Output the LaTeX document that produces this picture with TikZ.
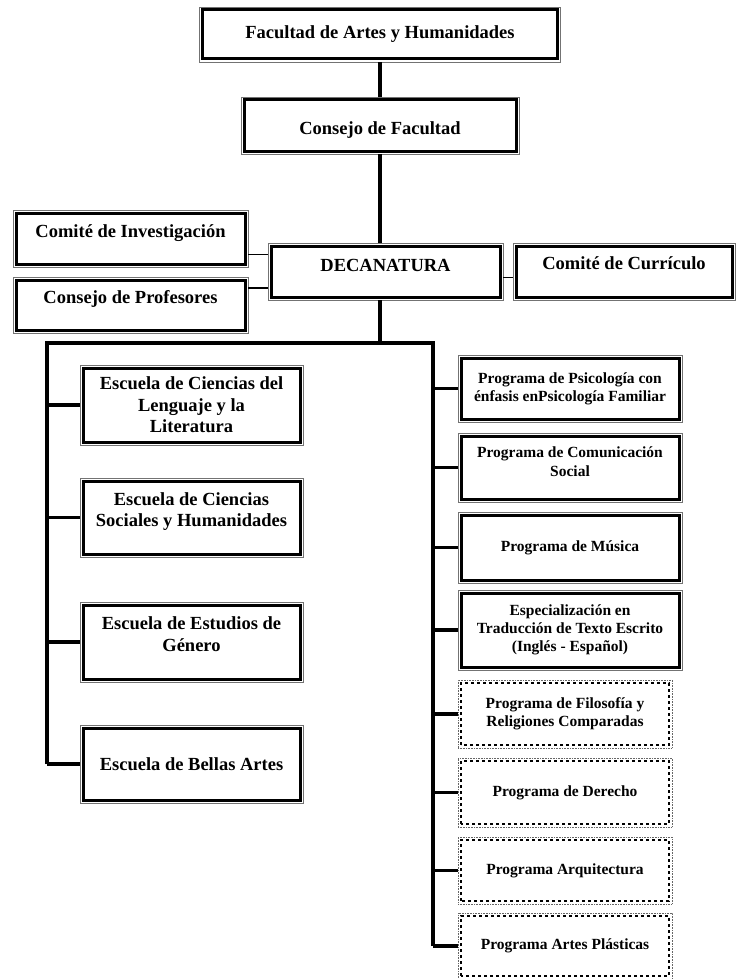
\documentclass[tikz,border=0pt]{standalone}
\usepackage{fontspec}
\setmainfont{Liberation Serif}
\usetikzlibrary{positioning}

\begin{document}
\begin{tikzpicture}[x=1pt,y=-1pt,
  caja/.style={draw=black!55, line width=0.7pt, fill=white, align=center,
    inner sep=1pt, font=\bfseries\fontsize{18.5}{21.5}\selectfont,
    path picture={\draw[black,solid,line width=3pt]
      ([shift={(3pt,3pt)}]path picture bounding box.south west) rectangle
      ([shift={(-3pt,-3pt)}]path picture bounding box.north east);}},
  programa/.style={caja, font=\bfseries\fontsize{15.5}{18.3}\selectfont},
  propuesta/.style={programa, draw=black!60, line width=0.6pt, densely dotted,
    path picture={\draw[black,line width=2.8pt,dash pattern=on 2.8pt off 3.2pt]
      ([shift={(3pt,3pt)}]path picture bounding box.south west) rectangle
      ([shift={(-3pt,-3pt)}]path picture bounding box.north east);}},
  arriba/.style={text depth=#1},
  tronco/.style={line width=3.5pt, line join=miter},
  rama/.style={line width=3.2pt},
  media/.style={line width=1.8pt},
  fina/.style={line width=0.9pt}]
  \pgfmathsetmacro{\AnchoEsc}{223}
  \pgfmathsetmacro{\AnchoProg}{224}
  \pgfmathsetmacro{\AnchoProp}{214}
  \useasboundingbox (0,0) rectangle (737,979);

  \node[caja, minimum width=361pt, minimum height=55pt] (fac) at (380,34.5) {Facultad de Artes y Humanidades};
  \node[caja, minimum width=278pt, minimum height=57pt, text height=22pt] (consejo) at (380,125.5) {Consejo de Facultad};
  \node[caja, minimum width=235pt, minimum height=57pt, arriba=14pt] (inv) at (130.5,238.5) {Comité de Investigación};
  \node[caja, minimum width=235pt, minimum height=56pt, arriba=17pt] (prof) at (130.5,305) {Consejo de Profesores};
  \node[caja, minimum width=235pt, minimum height=57pt, arriba=12pt] (dec) at (385.5,271.5) {DECANATURA};
  \node[caja, minimum width=222pt, minimum height=57pt, arriba=16pt] (cur) at (624,271.5) {Comité de Currículo};

  \coordinate (barraIzq) at (47,343);
  \coordinate (barraDer) at (433,343);

  \node[caja, minimum width=\AnchoEsc, minimum height=80pt] (esc1) at (191.5,405) {Escuela de Ciencias del\\Lenguaje y la\\Literatura};
  \node[caja, minimum width=\AnchoEsc, minimum height=79pt, arriba=16pt] (esc2) at (191.5,517.5) {Escuela de Ciencias\\Sociales y Humanidades};
  \node[caja, minimum width=\AnchoEsc, minimum height=80pt, arriba=16pt] (esc3) at (191.5,642) {Escuela de Estudios de\\Género};
  \node[caja, minimum width=\AnchoEsc, minimum height=78pt] (esc4) at (191.5,764) {Escuela de Bellas Artes};

  \node[programa, minimum width=\AnchoProg, minimum height=67pt] (prog1) at (570,388.5) {Programa de Psicología con\\énfasis enPsicología Familiar};
  \node[programa, minimum width=\AnchoProg, minimum height=69pt, arriba=12pt] (prog2) at (570,467.5) {Programa de Comunicación\\Social};
  \node[programa, minimum width=\AnchoProg, minimum height=71pt] (prog3) at (570,547.5) {Programa de Música};
  \node[programa, minimum width=\AnchoProg, minimum height=80pt] (prog4) at (570,630) {Especialización en\\Traducción de Texto Escrito\\(Inglés - Español)};
  \node[propuesta, minimum width=\AnchoProp, minimum height=68pt] (prog5) at (565,714) {Programa de Filosofía y\\Religiones Comparadas};
  \node[propuesta, minimum width=\AnchoProp, minimum height=69pt] (prog6) at (565,792.5) {Programa de Derecho};
  \node[propuesta, minimum width=\AnchoProp, minimum height=67pt] (prog7) at (565,870.5) {Programa Arquitectura};
  \node[propuesta, minimum width=\AnchoProp, minimum height=66pt] (prog8) at (565,946) {Programa Artes Plásticas};

  \draw[tronco] (fac) -- (consejo);
  \draw[tronco] (consejo) -- (consejo |- dec.north);
  \draw[tronco] (dec.south -| consejo) -- (barraIzq -| consejo);
  \draw[fina] ([yshift=-16pt]inv.east) -- ([yshift=-16pt]inv.east -| dec.west);
  \draw[media] ([yshift=17pt]prof.east) -- ([yshift=17pt]prof.east -| dec.west);
  \draw[fina] ([yshift=-5.5pt]dec.east) -- ([yshift=-5.5pt]dec.east -| cur.west);

  \draw[tronco] (barraIzq |- esc4) -- (barraIzq) -- (barraDer) -- (barraDer |- prog8);
  \foreach \n in {esc1,esc2,esc3,esc4}
    \draw[rama] (barraIzq |- \n) -- (\n.west);
  \foreach \n in {prog1,prog2,prog3,prog4,prog5,prog6,prog7,prog8}
    \draw[rama] (barraDer |- \n) -- (\n.west);
  % \draw[red] (0,0) rectangle (737,979);
\end{tikzpicture}
\end{document}
